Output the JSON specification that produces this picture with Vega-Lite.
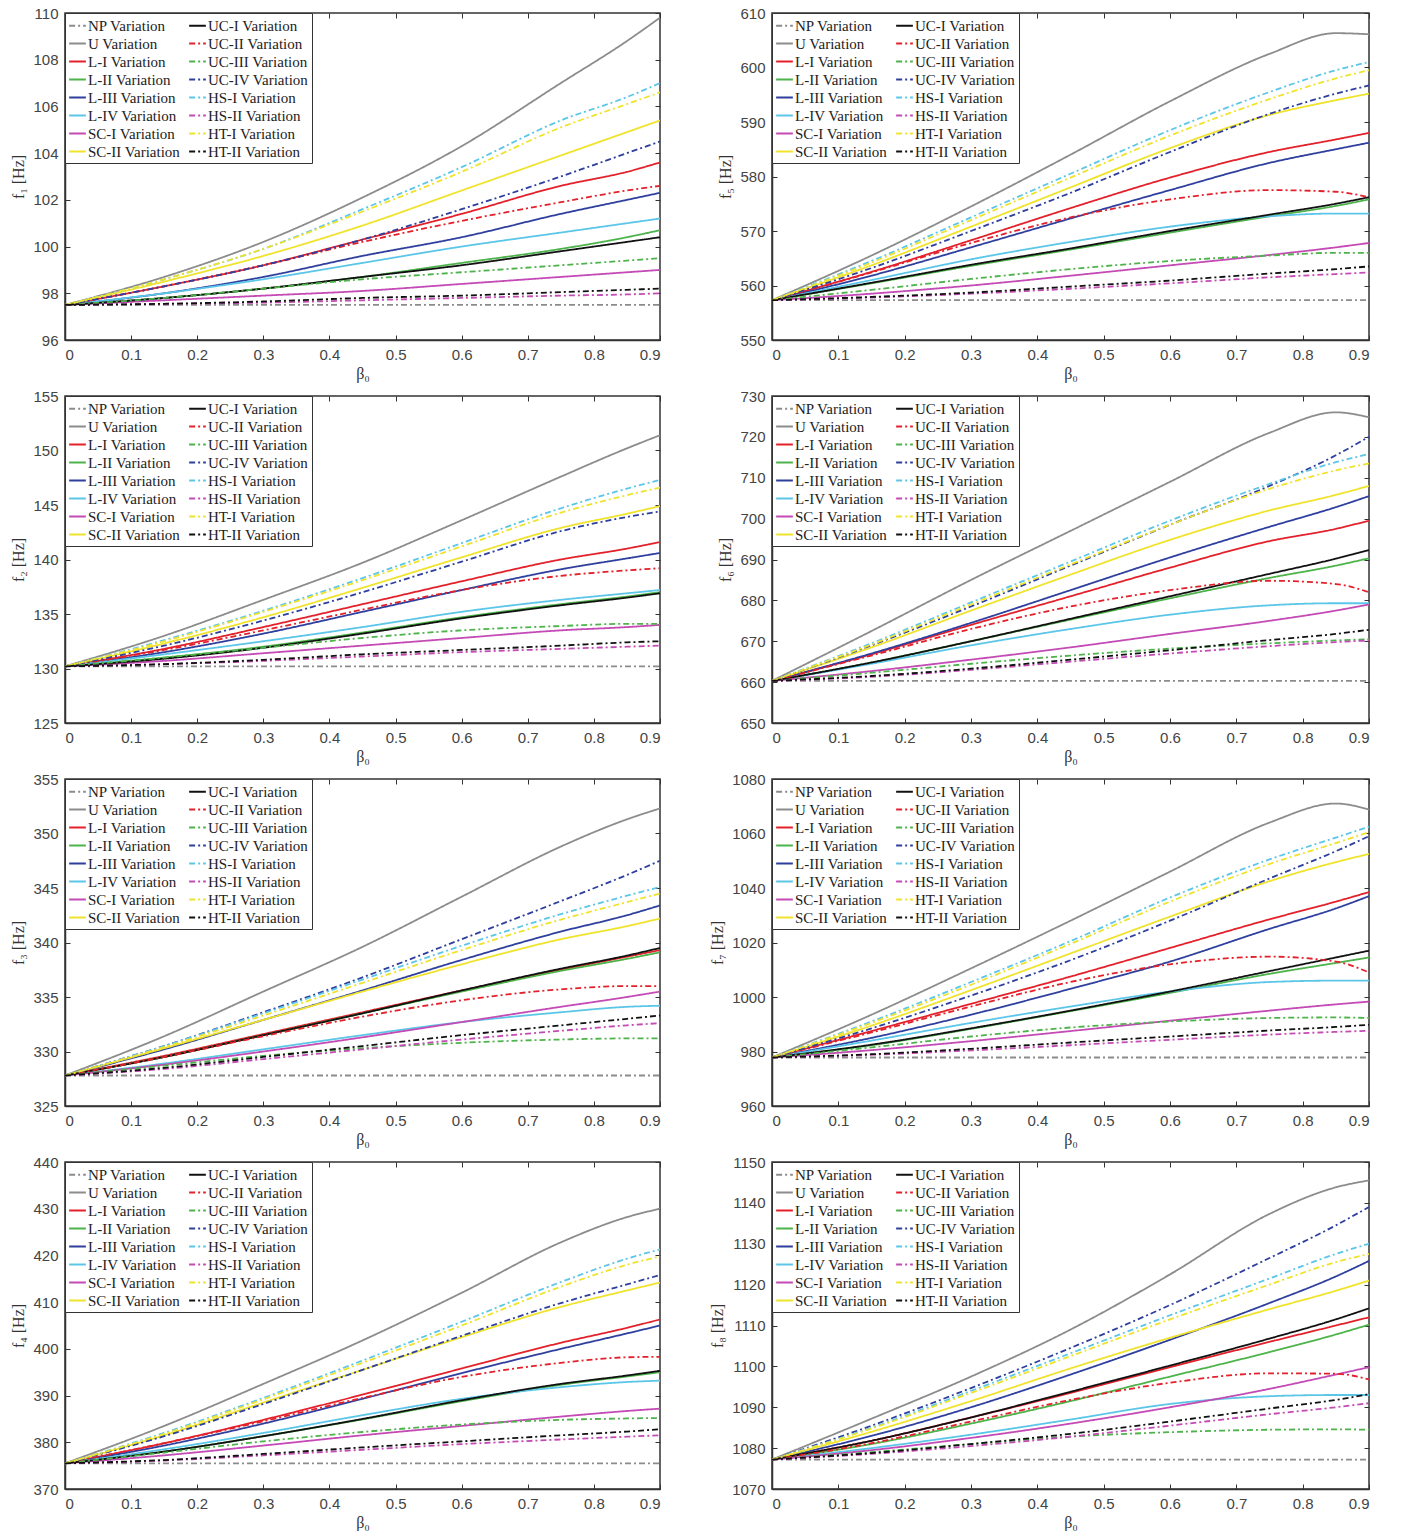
{
"$schema":"https://vega.github.io/schema/vega-lite/v6.json",
"padding":{"left":10,"top":5,"right":3,"bottom":0},
"background":"white",
"data":{"values":[
{"p":"f1","b":0,"NP":97.5,"U":97.5,"L-I":97.5,"L-II":97.5,"L-III":97.5,"L-IV":97.5,"SC-I":97.5,"SC-II":97.5,"UC-I":97.5,"UC-II":97.5,"UC-III":97.5,"UC-IV":97.5,"HS-I":97.5,"HS-II":97.5,"HT-I":97.5,"HT-II":97.5},
{"p":"f1","b":0.15,"NP":97.5,"U":98.7,"L-I":98.3,"L-II":97.8,"L-III":98.0,"L-IV":98.0,"SC-I":97.7,"SC-II":98.5,"UC-I":97.8,"UC-II":98.3,"UC-III":97.8,"UC-IV":98.3,"HS-I":98.6,"HS-II":97.55,"HT-I":98.6,"HT-II":97.55},
{"p":"f1","b":0.3,"NP":97.5,"U":100.2,"L-I":99.2,"L-II":98.2,"L-III":98.7,"L-IV":98.6,"SC-I":97.9,"SC-II":99.6,"UC-I":98.2,"UC-II":99.2,"UC-III":98.2,"UC-IV":99.2,"HS-I":99.9,"HS-II":97.6,"HT-I":99.9,"HT-II":97.65},
{"p":"f1","b":0.45,"NP":97.5,"U":102.1,"L-I":100.3,"L-II":98.7,"L-III":99.6,"L-IV":99.3,"SC-I":98.1,"SC-II":100.9,"UC-I":98.7,"UC-II":100.2,"UC-III":98.6,"UC-IV":100.3,"HS-I":101.6,"HS-II":97.7,"HT-I":101.5,"HT-II":97.8},
{"p":"f1","b":0.6,"NP":97.5,"U":104.3,"L-I":101.4,"L-II":99.3,"L-III":100.4,"L-IV":100.0,"SC-I":98.4,"SC-II":102.4,"UC-I":99.2,"UC-II":101.1,"UC-III":98.9,"UC-IV":101.6,"HS-I":103.4,"HS-II":97.8,"HT-I":103.2,"HT-II":97.9},
{"p":"f1","b":0.75,"NP":97.5,"U":107.0,"L-I":102.6,"L-II":99.9,"L-III":101.4,"L-IV":100.6,"SC-I":98.7,"SC-II":103.9,"UC-I":99.8,"UC-II":101.9,"UC-III":99.2,"UC-IV":103.0,"HS-I":105.4,"HS-II":97.9,"HT-I":105.1,"HT-II":98.05},
{"p":"f1","b":0.85,"NP":97.5,"U":108.8,"L-I":103.2,"L-II":100.4,"L-III":102.0,"L-IV":101.0,"SC-I":98.9,"SC-II":104.9,"UC-I":100.2,"UC-II":102.4,"UC-III":99.4,"UC-IV":104.0,"HS-I":106.4,"HS-II":97.95,"HT-I":106.1,"HT-II":98.15},
{"p":"f1","b":0.9,"NP":97.5,"U":109.8,"L-I":103.6,"L-II":100.7,"L-III":102.3,"L-IV":101.2,"SC-I":99.0,"SC-II":105.4,"UC-I":100.4,"UC-II":102.6,"UC-III":99.5,"UC-IV":104.5,"HS-I":107.0,"HS-II":98.0,"HT-I":106.6,"HT-II":98.2},
{"p":"f5","b":0,"NP":557.3,"U":557.3,"L-I":557.3,"L-II":557.3,"L-III":557.3,"L-IV":557.3,"SC-I":557.3,"SC-II":557.3,"UC-I":557.3,"UC-II":557.3,"UC-III":557.3,"UC-IV":557.3,"HS-I":557.3,"HS-II":557.3,"HT-I":557.3,"HT-II":557.3},
{"p":"f5","b":0.15,"NP":557.3,"U":565.5,"L-I":562.5,"L-II":560.4,"L-III":561.8,"L-IV":561,"SC-I":558.5,"SC-II":563.7,"UC-I":560.5,"UC-II":562.4,"UC-III":559.2,"UC-IV":563.2,"HS-I":564.5,"HS-II":557.8,"HT-I":564.2,"HT-II":557.9},
{"p":"f5","b":0.3,"NP":557.3,"U":574.5,"L-I":568.3,"L-II":563.6,"L-III":567,"L-IV":564.8,"SC-I":560,"SC-II":570.8,"UC-I":563.8,"UC-II":567.8,"UC-III":561.2,"UC-IV":570,"HS-I":572.5,"HS-II":558.5,"HT-I":572,"HT-II":558.7},
{"p":"f5","b":0.45,"NP":557.3,"U":584,"L-I":574.2,"L-II":566.6,"L-III":572.3,"L-IV":568,"SC-I":561.8,"SC-II":578,"UC-I":566.8,"UC-II":572.5,"UC-III":563,"UC-IV":577,"HS-I":580.5,"HS-II":559.4,"HT-I":579.8,"HT-II":559.8},
{"p":"f5","b":0.6,"NP":557.3,"U":593.8,"L-I":579.8,"L-II":569.7,"L-III":577.5,"L-IV":570.8,"SC-I":563.7,"SC-II":585.2,"UC-I":570,"UC-II":575.8,"UC-III":564.5,"UC-IV":584.5,"HS-I":588.5,"HS-II":560.4,"HT-I":587.5,"HT-II":560.9},
{"p":"f5","b":0.75,"NP":557.3,"U":602.5,"L-I":584.5,"L-II":572.7,"L-III":582.5,"L-IV":572.7,"SC-I":565.6,"SC-II":591.3,"UC-I":573,"UC-II":577.5,"UC-III":565.5,"UC-IV":591.5,"HS-I":595.5,"HS-II":561.5,"HT-I":594.2,"HT-II":562.2},
{"p":"f5","b":0.85,"NP":557.3,"U":606.3,"L-I":586.8,"L-II":574.6,"L-III":585,"L-IV":573.2,"SC-I":567,"SC-II":594,"UC-I":575,"UC-II":577.2,"UC-III":566,"UC-IV":595.2,"HS-I":599.5,"HS-II":562.1,"HT-I":598,"HT-II":563},
{"p":"f5","b":0.9,"NP":557.3,"U":606.1,"L-I":588,"L-II":575.8,"L-III":586.2,"L-IV":573.2,"SC-I":567.8,"SC-II":595.2,"UC-I":576.2,"UC-II":576.2,"UC-III":566,"UC-IV":596.7,"HS-I":601,"HS-II":562.4,"HT-I":599.5,"HT-II":563.5},
{"p":"f2","b":0,"NP":130.2,"U":130.2,"L-I":130.2,"L-II":130.2,"L-III":130.2,"L-IV":130.2,"SC-I":130.2,"SC-II":130.2,"UC-I":130.2,"UC-II":130.2,"UC-III":130.2,"UC-IV":130.2,"HS-I":130.2,"HS-II":130.2,"HT-I":130.2,"HT-II":130.2},
{"p":"f2","b":0.15,"NP":130.2,"U":133,"L-I":131.8,"L-II":131.0,"L-III":131.5,"L-IV":131.3,"SC-I":130.7,"SC-II":132.3,"UC-I":130.9,"UC-II":131.7,"UC-III":131.0,"UC-IV":132.1,"HS-I":132.6,"HS-II":130.4,"HT-I":132.5,"HT-II":130.4},
{"p":"f2","b":0.3,"NP":130.2,"U":136.3,"L-I":133.8,"L-II":132.0,"L-III":133.2,"L-IV":132.5,"SC-I":131.4,"SC-II":134.7,"UC-I":131.9,"UC-II":133.5,"UC-III":131.9,"UC-IV":134.4,"HS-I":135.3,"HS-II":130.7,"HT-I":135.2,"HT-II":130.8},
{"p":"f2","b":0.45,"NP":130.2,"U":139.7,"L-I":135.9,"L-II":133.3,"L-III":135.2,"L-IV":133.8,"SC-I":132.1,"SC-II":137.4,"UC-I":133.2,"UC-II":135.4,"UC-III":132.8,"UC-IV":137,"HS-I":138.3,"HS-II":131.1,"HT-I":138.1,"HT-II":131.3},
{"p":"f2","b":0.6,"NP":130.2,"U":143.6,"L-I":138.0,"L-II":134.7,"L-III":137.2,"L-IV":135.2,"SC-I":132.8,"SC-II":140.2,"UC-I":134.6,"UC-II":137.2,"UC-III":133.5,"UC-IV":139.8,"HS-I":141.5,"HS-II":131.5,"HT-I":141.2,"HT-II":131.7},
{"p":"f2","b":0.75,"NP":130.2,"U":147.6,"L-I":140.0,"L-II":135.9,"L-III":139.1,"L-IV":136.3,"SC-I":133.5,"SC-II":142.9,"UC-I":135.8,"UC-II":138.5,"UC-III":133.9,"UC-IV":142.6,"HS-I":144.7,"HS-II":131.8,"HT-I":144.3,"HT-II":132.1},
{"p":"f2","b":0.85,"NP":130.2,"U":150.2,"L-I":141.0,"L-II":136.6,"L-III":140.1,"L-IV":136.9,"SC-I":133.8,"SC-II":144.2,"UC-I":136.5,"UC-II":139.0,"UC-III":134.1,"UC-IV":143.9,"HS-I":146.5,"HS-II":132.0,"HT-I":145.9,"HT-II":132.4},
{"p":"f2","b":0.9,"NP":130.2,"U":151.4,"L-I":141.6,"L-II":137.0,"L-III":140.6,"L-IV":137.2,"SC-I":134.0,"SC-II":144.9,"UC-I":136.9,"UC-II":139.2,"UC-III":134.1,"UC-IV":144.4,"HS-I":147.3,"HS-II":132.1,"HT-I":146.6,"HT-II":132.5},
{"p":"f6","b":0,"NP":660.3,"U":660.3,"L-I":660.3,"L-II":660.3,"L-III":660.3,"L-IV":660.3,"SC-I":660.3,"SC-II":660.3,"UC-I":660.3,"UC-II":660.3,"UC-III":660.3,"UC-IV":660.3,"HS-I":660.3,"HS-II":660.3,"HT-I":660.3,"HT-II":660.3},
{"p":"f6","b":0.15,"NP":660.3,"U":672.5,"L-I":666.8,"L-II":664.8,"L-III":667,"L-IV":664.5,"SC-I":662.7,"SC-II":668.5,"UC-I":664.8,"UC-II":666.5,"UC-III":662.3,"UC-IV":669,"HS-I":669.5,"HS-II":661.3,"HT-I":669.2,"HT-II":661.5},
{"p":"f6","b":0.3,"NP":660.3,"U":685,"L-I":674,"L-II":670,"L-III":674.5,"L-IV":669,"SC-I":665.5,"SC-II":677.5,"UC-I":670,"UC-II":673,"UC-III":664.5,"UC-IV":678.5,"HS-I":679.5,"HS-II":663,"HT-I":679,"HT-II":663.3},
{"p":"f6","b":0.45,"NP":660.3,"U":697,"L-I":681,"L-II":675.3,"L-III":682.5,"L-IV":673,"SC-I":668.5,"SC-II":686.3,"UC-I":675.5,"UC-II":678.5,"UC-III":666.5,"UC-IV":688.5,"HS-I":689.5,"HS-II":665,"HT-I":688.8,"HT-II":665.5},
{"p":"f6","b":0.6,"NP":660.3,"U":709,"L-I":688,"L-II":680.5,"L-III":690.5,"L-IV":676.5,"SC-I":671.8,"SC-II":694.8,"UC-I":681,"UC-II":682.5,"UC-III":668.2,"UC-IV":698.5,"HS-I":699.5,"HS-II":667,"HT-I":698.5,"HT-II":667.8},
{"p":"f6","b":0.75,"NP":660.3,"U":721,"L-I":694.5,"L-II":685.5,"L-III":698,"L-IV":678.8,"SC-I":675,"SC-II":702,"UC-I":686.5,"UC-II":684.8,"UC-III":669.5,"UC-IV":708,"HS-I":708.5,"HS-II":668.8,"HT-I":707.3,"HT-II":670.3},
{"p":"f6","b":0.85,"NP":660.3,"U":726,"L-I":697.5,"L-II":688.5,"L-III":702.8,"L-IV":679.3,"SC-I":677.5,"SC-II":705.8,"UC-I":690.2,"UC-II":684,"UC-III":670.2,"UC-IV":715.5,"HS-I":713.8,"HS-II":669.8,"HT-I":711.8,"HT-II":671.8},
{"p":"f6","b":0.9,"NP":660.3,"U":724.8,"L-I":699.5,"L-II":690.3,"L-III":705.5,"L-IV":679.3,"SC-I":679,"SC-II":708,"UC-I":692.3,"UC-II":682,"UC-III":670.5,"UC-IV":720,"HS-I":715.8,"HS-II":670.2,"HT-I":713.5,"HT-II":672.8},
{"p":"f3","b":0,"NP":327.8,"U":327.8,"L-I":327.8,"L-II":327.8,"L-III":327.8,"L-IV":327.8,"SC-I":327.8,"SC-II":327.8,"UC-I":327.8,"UC-II":327.8,"UC-III":327.8,"UC-IV":327.8,"HS-I":327.8,"HS-II":327.8,"HT-I":327.8,"HT-II":327.8},
{"p":"f3","b":0.15,"NP":327.8,"U":331.4,"L-I":329.6,"L-II":329.5,"L-III":330.2,"L-IV":328.9,"SC-I":328.8,"SC-II":330.3,"UC-I":329.5,"UC-II":329.5,"UC-III":328.7,"UC-IV":330.5,"HS-I":330.5,"HS-II":328.4,"HT-I":330.4,"HT-II":328.5},
{"p":"f3","b":0.3,"NP":327.8,"U":335.5,"L-I":331.6,"L-II":331.5,"L-III":332.9,"L-IV":330.2,"SC-I":330,"SC-II":332.9,"UC-I":331.5,"UC-II":331.4,"UC-III":329.6,"UC-IV":333.6,"HS-I":333.5,"HS-II":329.3,"HT-I":333.3,"HT-II":329.5},
{"p":"f3","b":0.45,"NP":327.8,"U":339.6,"L-I":333.6,"L-II":333.5,"L-III":335.6,"L-IV":331.5,"SC-I":331.3,"SC-II":335.5,"UC-I":333.5,"UC-II":333.2,"UC-III":330.3,"UC-IV":336.8,"HS-I":336.6,"HS-II":330.2,"HT-I":336.3,"HT-II":330.5},
{"p":"f3","b":0.6,"NP":327.8,"U":344.2,"L-I":335.6,"L-II":335.5,"L-III":338.4,"L-IV":332.7,"SC-I":332.7,"SC-II":338,"UC-I":335.6,"UC-II":334.7,"UC-III":330.8,"UC-IV":340.3,"HS-I":339.7,"HS-II":331.1,"HT-I":339.3,"HT-II":331.5},
{"p":"f3","b":0.75,"NP":327.8,"U":348.8,"L-I":337.5,"L-II":337.4,"L-III":341,"L-IV":333.6,"SC-I":334.1,"SC-II":340.3,"UC-I":337.6,"UC-II":335.7,"UC-III":331.1,"UC-IV":343.8,"HS-I":342.6,"HS-II":331.9,"HT-I":342.1,"HT-II":332.4},
{"p":"f3","b":0.85,"NP":327.8,"U":351.3,"L-I":338.7,"L-II":338.5,"L-III":342.5,"L-IV":334.1,"SC-I":335,"SC-II":341.5,"UC-I":338.8,"UC-II":336.0,"UC-III":331.2,"UC-IV":346.2,"HS-I":344.3,"HS-II":332.4,"HT-I":343.7,"HT-II":333},
{"p":"f3","b":0.9,"NP":327.8,"U":352.3,"L-I":339.3,"L-II":339.1,"L-III":343.4,"L-IV":334.2,"SC-I":335.5,"SC-II":342.2,"UC-I":339.5,"UC-II":336.0,"UC-III":331.2,"UC-IV":347.5,"HS-I":345.1,"HS-II":332.6,"HT-I":344.5,"HT-II":333.3},
{"p":"f7","b":0,"NP":977.8,"U":977.8,"L-I":977.8,"L-II":977.8,"L-III":977.8,"L-IV":977.8,"SC-I":977.8,"SC-II":977.8,"UC-I":977.8,"UC-II":977.8,"UC-III":977.8,"UC-IV":977.8,"HS-I":977.8,"HS-II":977.8,"HT-I":977.8,"HT-II":977.8},
{"p":"f7","b":0.15,"NP":977.8,"U":993.5,"L-I":987.5,"L-II":982.3,"L-III":985,"L-IV":984,"SC-I":980.5,"SC-II":989.5,"UC-I":982.5,"UC-II":987,"UC-III":981.5,"UC-IV":988.5,"HS-I":991,"HS-II":978.8,"HT-I":990.5,"HT-II":979},
{"p":"f7","b":0.3,"NP":977.8,"U":1010.5,"L-I":997.5,"L-II":988.3,"L-III":993.5,"L-IV":990.5,"SC-I":983.8,"SC-II":1002.5,"UC-I":988.5,"UC-II":996.5,"UC-III":985.5,"UC-IV":1000.5,"HS-I":1005.5,"HS-II":980.4,"HT-I":1004.5,"HT-II":981},
{"p":"f7","b":0.45,"NP":977.8,"U":1028,"L-I":1007.5,"L-II":994.8,"L-III":1003,"L-IV":996.5,"SC-I":987.5,"SC-II":1016,"UC-I":995,"UC-II":1005.5,"UC-III":988.8,"UC-IV":1013.5,"HS-I":1020.5,"HS-II":982.3,"HT-I":1019.5,"HT-II":983.3},
{"p":"f7","b":0.6,"NP":977.8,"U":1046,"L-I":1018,"L-II":1001.5,"L-III":1013,"L-IV":1002,"SC-I":991.3,"SC-II":1029.5,"UC-I":1002,"UC-II":1012,"UC-III":991,"UC-IV":1028,"HS-I":1036.5,"HS-II":984.3,"HT-I":1035,"HT-II":985.5},
{"p":"f7","b":0.75,"NP":977.8,"U":1064,"L-I":1028.5,"L-II":1008.5,"L-III":1025,"L-IV":1005.5,"SC-I":995,"SC-II":1042.5,"UC-I":1009.5,"UC-II":1014.8,"UC-III":992.3,"UC-IV":1043.5,"HS-I":1050.5,"HS-II":986.2,"HT-I":1048.8,"HT-II":987.7},
{"p":"f7","b":0.85,"NP":977.8,"U":1071,"L-I":1035,"L-II":1012.5,"L-III":1032.5,"L-IV":1006,"SC-I":997.3,"SC-II":1049.5,"UC-I":1014.5,"UC-II":1013,"UC-III":992.5,"UC-IV":1053.5,"HS-I":1058.5,"HS-II":987.2,"HT-I":1056.5,"HT-II":989},
{"p":"f7","b":0.9,"NP":977.8,"U":1068.8,"L-I":1038.5,"L-II":1014.5,"L-III":1037,"L-IV":1006,"SC-I":998.3,"SC-II":1052.5,"UC-I":1017,"UC-II":1009,"UC-III":992.3,"UC-IV":1059,"HS-I":1062.5,"HS-II":987.6,"HT-I":1060.5,"HT-II":989.8},
{"p":"f4","b":0,"NP":375.5,"U":375.5,"L-I":375.5,"L-II":375.5,"L-III":375.5,"L-IV":375.5,"SC-I":375.5,"SC-II":375.5,"UC-I":375.5,"UC-II":375.5,"UC-III":375.5,"UC-IV":375.5,"HS-I":375.5,"HS-II":375.5,"HT-I":375.5,"HT-II":375.5},
{"p":"f4","b":0.15,"NP":375.5,"U":383.5,"L-I":379.8,"L-II":378,"L-III":379.3,"L-IV":378.5,"SC-I":377.2,"SC-II":381.5,"UC-I":378,"UC-II":379.8,"UC-III":377.8,"UC-IV":381.3,"HS-I":382,"HS-II":376.1,"HT-I":381.8,"HT-II":376.2},
{"p":"f4","b":0.3,"NP":375.5,"U":392.5,"L-I":384.8,"L-II":381.3,"L-III":384,"L-IV":382,"SC-I":379.3,"SC-II":388.5,"UC-I":381.3,"UC-II":384.5,"UC-III":380.2,"UC-IV":388.2,"HS-I":389.5,"HS-II":377.2,"HT-I":389.2,"HT-II":377.5},
{"p":"f4","b":0.45,"NP":375.5,"U":401.8,"L-I":390.2,"L-II":384.9,"L-III":389.3,"L-IV":385.8,"SC-I":381.5,"SC-II":395.5,"UC-I":385,"UC-II":389.5,"UC-III":382.2,"UC-IV":395.5,"HS-I":397.5,"HS-II":378.4,"HT-I":397,"HT-II":378.9},
{"p":"f4","b":0.6,"NP":375.5,"U":412,"L-I":395.8,"L-II":388.8,"L-III":394.8,"L-IV":389.3,"SC-I":383.5,"SC-II":402.5,"UC-I":389,"UC-II":394,"UC-III":383.8,"UC-IV":402.8,"HS-I":405.8,"HS-II":379.6,"HT-I":405,"HT-II":380.2},
{"p":"f4","b":0.75,"NP":375.5,"U":422.8,"L-I":401.3,"L-II":392.3,"L-III":400,"L-IV":391.8,"SC-I":385.5,"SC-II":409,"UC-I":392.5,"UC-II":397,"UC-III":384.8,"UC-IV":409.8,"HS-I":414.3,"HS-II":380.6,"HT-I":413.3,"HT-II":381.5},
{"p":"f4","b":0.85,"NP":375.5,"U":428.2,"L-I":404.5,"L-II":394.1,"L-III":403.3,"L-IV":392.9,"SC-I":386.7,"SC-II":412.5,"UC-I":394.3,"UC-II":398.2,"UC-III":385.1,"UC-IV":413.8,"HS-I":419.3,"HS-II":381.2,"HT-I":418,"HT-II":382.3},
{"p":"f4","b":0.9,"NP":375.5,"U":430,"L-I":406.3,"L-II":395,"L-III":405,"L-IV":393.2,"SC-I":387.2,"SC-II":414.2,"UC-I":395.3,"UC-II":398.3,"UC-III":385.2,"UC-IV":415.8,"HS-I":421.3,"HS-II":381.5,"HT-I":419.8,"HT-II":382.8},
{"p":"f8","b":0,"NP":1077.2,"U":1077.2,"L-I":1077.2,"L-II":1077.2,"L-III":1077.2,"L-IV":1077.2,"SC-I":1077.2,"SC-II":1077.2,"UC-I":1077.2,"UC-II":1077.2,"UC-III":1077.2,"UC-IV":1077.2,"HS-I":1077.2,"HS-II":1077.2,"HT-I":1077.2,"HT-II":1077.2},
{"p":"f8","b":0.15,"NP":1077.2,"U":1087.2,"L-I":1081.8,"L-II":1081,"L-III":1083,"L-IV":1080,"SC-I":1079.5,"SC-II":1084,"UC-I":1081.8,"UC-II":1081.2,"UC-III":1079,"UC-IV":1085.5,"HS-I":1085,"HS-II":1078.6,"HT-I":1084.8,"HT-II":1078.8},
{"p":"f8","b":0.3,"NP":1077.2,"U":1097.5,"L-I":1087.5,"L-II":1086,"L-III":1090,"L-IV":1083.3,"SC-I":1082.5,"SC-II":1091.5,"UC-I":1087.5,"UC-II":1086.5,"UC-III":1081,"UC-IV":1094.7,"HS-I":1094,"HS-II":1080.5,"HT-I":1093.5,"HT-II":1081},
{"p":"f8","b":0.45,"NP":1077.2,"U":1109,"L-I":1093.5,"L-II":1091.5,"L-III":1098,"L-IV":1087,"SC-I":1086,"SC-II":1099.5,"UC-I":1093.8,"UC-II":1091.8,"UC-III":1082.8,"UC-IV":1104.5,"HS-I":1103.2,"HS-II":1082.8,"HT-I":1102.5,"HT-II":1083.5},
{"p":"f8","b":0.6,"NP":1077.2,"U":1122.5,"L-I":1099.8,"L-II":1097.5,"L-III":1106.5,"L-IV":1090.8,"SC-I":1090,"SC-II":1107,"UC-I":1100.2,"UC-II":1096,"UC-III":1083.9,"UC-IV":1115,"HS-I":1112.5,"HS-II":1085.5,"HT-I":1111.5,"HT-II":1086.5},
{"p":"f8","b":0.75,"NP":1077.2,"U":1137.3,"L-I":1106,"L-II":1103.5,"L-III":1115.5,"L-IV":1092.7,"SC-I":1094.5,"SC-II":1114,"UC-I":1106.8,"UC-II":1098.3,"UC-III":1084.5,"UC-IV":1126.5,"HS-I":1121.5,"HS-II":1088.3,"HT-I":1120,"HT-II":1089.7},
{"p":"f8","b":0.85,"NP":1077.2,"U":1143.8,"L-I":1110,"L-II":1107.8,"L-III":1122,"L-IV":1093,"SC-I":1098,"SC-II":1118.5,"UC-I":1111.5,"UC-II":1098.2,"UC-III":1084.6,"UC-IV":1134.5,"HS-I":1127.5,"HS-II":1090,"HT-I":1125.5,"HT-II":1091.8},
{"p":"f8","b":0.9,"NP":1077.2,"U":1145.5,"L-I":1112,"L-II":1110.2,"L-III":1125.8,"L-IV":1093,"SC-I":1099.8,"SC-II":1121,"UC-I":1114.2,"UC-II":1096.8,"UC-III":1084.5,"UC-IV":1139,"HS-I":1130,"HS-II":1091,"HT-I":1127.5,"HT-II":1093.2}
]},
"columns":2,
"spacing":{"row":6,"column":46},
"resolve":{"scale":{"x":"independent","y":"independent","color":"independent","strokeDash":"independent"},"legend":{"color":"independent","strokeDash":"independent"}},
"config":{
 "view":{"stroke":"#333","strokeWidth":1.5},
 "axis":{"grid":false,"domainColor":"#333","domainWidth":1.5,"tickColor":"#333","tickSize":-5,"labelFont":"Liberation Sans","labelFontSize":15,"labelColor":"#444","labelPadding":12,"titleFont":"Liberation Serif","titleFontSize":16,"titleFontWeight":"normal","titleColor":"#333"},
 "axisX":{"titlePadding":3},
 "axisY":{"titlePadding":6},
 "legend":{"orient":"top-left","offset":0,"columns":2,"fillColor":"#ffffff","strokeColor":"#333","padding":3,"symbolType":"stroke","symbolStrokeWidth":2,"symbolSize":280,"labelFont":"Liberation Serif","labelFontSize":15,"labelColor":"#222","rowPadding":0,"columnPadding":4,"labelOffset":1,"labelLimit":300}
},
"concat":[
{"width":595,"height":327,"transform":[{"filter":"datum.p=='f1'"},{"fold":["NP","U","L-I","L-II","L-III","L-IV","SC-I","SC-II","UC-I","UC-II","UC-III","UC-IV","HS-I","HS-II","HT-I","HT-II"],"as":["s","f"]}],
 "resolve":{"axis":{"x":"independent","y":"independent"}},
 "layer":[
 {"mark":{"type":"line","strokeWidth":1.8,"interpolate":"monotone","clip":true},
 "encoding":{
  "x":{"field":"b","type":"quantitative","scale":{"domain":[0,0.9],"nice":false},"axis":{"values":[0,0.1,0.2,0.3,0.4,0.5,0.6,0.7,0.8,0.9],"format":"~g","title":"β₀"}},
  "y":{"field":"f","type":"quantitative","scale":{"domain":[96,110],"nice":false,"zero":false},"axis":{"values":[96,98,100,102,104,106,108,110],"format":"d","title":"f₁ [Hz]"}},
  "color":{"field":"s","type":"nominal","title":null,"scale":{"domain":["NP","U","L-I","L-II","L-III","L-IV","SC-I","SC-II","UC-I","UC-II","UC-III","UC-IV","HS-I","HS-II","HT-I","HT-II"],"range":["#8c8c8c","#8c8c8c","#e3212b","#4db34a","#2e3f9e","#5cc6e8","#c44bb5","#f0e32c","#111111","#e3212b","#4db34a","#2e3f9e","#5cc6e8","#c44bb5","#f0e32c","#111111"]},"legend":{"labelExpr":"datum.label + ' Variation'"}},
  "strokeDash":{"field":"s","type":"nominal","title":null,"scale":{"domain":["NP","U","L-I","L-II","L-III","L-IV","SC-I","SC-II","UC-I","UC-II","UC-III","UC-IV","HS-I","HS-II","HT-I","HT-II"],"range":[[6,3,2,3],[1,0],[1,0],[1,0],[1,0],[1,0],[1,0],[1,0],[1,0],[6,3,2,3],[6,3,2,3],[6,3,2,3],[6,3,2,3],[6,3,2,3],[6,3,2,3],[6,3,2,3]]},"legend":{"labelExpr":"datum.label + ' Variation'"}}
 }},
 {"mark":{"type":"line","opacity":0},
 "encoding":{
  "x":{"field":"b","type":"quantitative","scale":{"domain":[0,0.9],"nice":false},"axis":{"orient":"top","values":[0,0.1,0.2,0.3,0.4,0.5,0.6,0.7,0.8,0.9],"labels":false,"domain":false,"title":null}},
  "y":{"field":"f","type":"quantitative","scale":{"domain":[96,110],"nice":false,"zero":false},"axis":{"orient":"right","values":[96,98,100,102,104,106,108,110],"labels":false,"domain":false,"title":null}},
  "detail":{"field":"s"}
 }}
 ]},
{"width":597,"height":327,"transform":[{"filter":"datum.p=='f5'"},{"fold":["NP","U","L-I","L-II","L-III","L-IV","SC-I","SC-II","UC-I","UC-II","UC-III","UC-IV","HS-I","HS-II","HT-I","HT-II"],"as":["s","f"]}],
 "resolve":{"axis":{"x":"independent","y":"independent"}},
 "layer":[
 {"mark":{"type":"line","strokeWidth":1.8,"interpolate":"monotone","clip":true},
 "encoding":{
  "x":{"field":"b","type":"quantitative","scale":{"domain":[0,0.9],"nice":false},"axis":{"values":[0,0.1,0.2,0.3,0.4,0.5,0.6,0.7,0.8,0.9],"format":"~g","title":"β₀"}},
  "y":{"field":"f","type":"quantitative","scale":{"domain":[550,610],"nice":false,"zero":false},"axis":{"values":[550,560,570,580,590,600,610],"format":"d","title":"f₅ [Hz]"}},
  "color":{"field":"s","type":"nominal","title":null,"scale":{"domain":["NP","U","L-I","L-II","L-III","L-IV","SC-I","SC-II","UC-I","UC-II","UC-III","UC-IV","HS-I","HS-II","HT-I","HT-II"],"range":["#8c8c8c","#8c8c8c","#e3212b","#4db34a","#2e3f9e","#5cc6e8","#c44bb5","#f0e32c","#111111","#e3212b","#4db34a","#2e3f9e","#5cc6e8","#c44bb5","#f0e32c","#111111"]},"legend":{"labelExpr":"datum.label + ' Variation'"}},
  "strokeDash":{"field":"s","type":"nominal","title":null,"scale":{"domain":["NP","U","L-I","L-II","L-III","L-IV","SC-I","SC-II","UC-I","UC-II","UC-III","UC-IV","HS-I","HS-II","HT-I","HT-II"],"range":[[6,3,2,3],[1,0],[1,0],[1,0],[1,0],[1,0],[1,0],[1,0],[1,0],[6,3,2,3],[6,3,2,3],[6,3,2,3],[6,3,2,3],[6,3,2,3],[6,3,2,3],[6,3,2,3]]},"legend":{"labelExpr":"datum.label + ' Variation'"}}
 }},
 {"mark":{"type":"line","opacity":0},
 "encoding":{
  "x":{"field":"b","type":"quantitative","scale":{"domain":[0,0.9],"nice":false},"axis":{"orient":"top","values":[0,0.1,0.2,0.3,0.4,0.5,0.6,0.7,0.8,0.9],"labels":false,"domain":false,"title":null}},
  "y":{"field":"f","type":"quantitative","scale":{"domain":[550,610],"nice":false,"zero":false},"axis":{"orient":"right","values":[550,560,570,580,590,600,610],"labels":false,"domain":false,"title":null}},
  "detail":{"field":"s"}
 }}
 ]},
{"width":595,"height":327,"transform":[{"filter":"datum.p=='f2'"},{"fold":["NP","U","L-I","L-II","L-III","L-IV","SC-I","SC-II","UC-I","UC-II","UC-III","UC-IV","HS-I","HS-II","HT-I","HT-II"],"as":["s","f"]}],
 "resolve":{"axis":{"x":"independent","y":"independent"}},
 "layer":[
 {"mark":{"type":"line","strokeWidth":1.8,"interpolate":"monotone","clip":true},
 "encoding":{
  "x":{"field":"b","type":"quantitative","scale":{"domain":[0,0.9],"nice":false},"axis":{"values":[0,0.1,0.2,0.3,0.4,0.5,0.6,0.7,0.8,0.9],"format":"~g","title":"β₀"}},
  "y":{"field":"f","type":"quantitative","scale":{"domain":[125,155],"nice":false,"zero":false},"axis":{"values":[125,130,135,140,145,150,155],"format":"d","title":"f₂ [Hz]"}},
  "color":{"field":"s","type":"nominal","title":null,"scale":{"domain":["NP","U","L-I","L-II","L-III","L-IV","SC-I","SC-II","UC-I","UC-II","UC-III","UC-IV","HS-I","HS-II","HT-I","HT-II"],"range":["#8c8c8c","#8c8c8c","#e3212b","#4db34a","#2e3f9e","#5cc6e8","#c44bb5","#f0e32c","#111111","#e3212b","#4db34a","#2e3f9e","#5cc6e8","#c44bb5","#f0e32c","#111111"]},"legend":{"labelExpr":"datum.label + ' Variation'"}},
  "strokeDash":{"field":"s","type":"nominal","title":null,"scale":{"domain":["NP","U","L-I","L-II","L-III","L-IV","SC-I","SC-II","UC-I","UC-II","UC-III","UC-IV","HS-I","HS-II","HT-I","HT-II"],"range":[[6,3,2,3],[1,0],[1,0],[1,0],[1,0],[1,0],[1,0],[1,0],[1,0],[6,3,2,3],[6,3,2,3],[6,3,2,3],[6,3,2,3],[6,3,2,3],[6,3,2,3],[6,3,2,3]]},"legend":{"labelExpr":"datum.label + ' Variation'"}}
 }},
 {"mark":{"type":"line","opacity":0},
 "encoding":{
  "x":{"field":"b","type":"quantitative","scale":{"domain":[0,0.9],"nice":false},"axis":{"orient":"top","values":[0,0.1,0.2,0.3,0.4,0.5,0.6,0.7,0.8,0.9],"labels":false,"domain":false,"title":null}},
  "y":{"field":"f","type":"quantitative","scale":{"domain":[125,155],"nice":false,"zero":false},"axis":{"orient":"right","values":[125,130,135,140,145,150,155],"labels":false,"domain":false,"title":null}},
  "detail":{"field":"s"}
 }}
 ]},
{"width":597,"height":327,"transform":[{"filter":"datum.p=='f6'"},{"fold":["NP","U","L-I","L-II","L-III","L-IV","SC-I","SC-II","UC-I","UC-II","UC-III","UC-IV","HS-I","HS-II","HT-I","HT-II"],"as":["s","f"]}],
 "resolve":{"axis":{"x":"independent","y":"independent"}},
 "layer":[
 {"mark":{"type":"line","strokeWidth":1.8,"interpolate":"monotone","clip":true},
 "encoding":{
  "x":{"field":"b","type":"quantitative","scale":{"domain":[0,0.9],"nice":false},"axis":{"values":[0,0.1,0.2,0.3,0.4,0.5,0.6,0.7,0.8,0.9],"format":"~g","title":"β₀"}},
  "y":{"field":"f","type":"quantitative","scale":{"domain":[650,730],"nice":false,"zero":false},"axis":{"values":[650,660,670,680,690,700,710,720,730],"format":"d","title":"f₆ [Hz]"}},
  "color":{"field":"s","type":"nominal","title":null,"scale":{"domain":["NP","U","L-I","L-II","L-III","L-IV","SC-I","SC-II","UC-I","UC-II","UC-III","UC-IV","HS-I","HS-II","HT-I","HT-II"],"range":["#8c8c8c","#8c8c8c","#e3212b","#4db34a","#2e3f9e","#5cc6e8","#c44bb5","#f0e32c","#111111","#e3212b","#4db34a","#2e3f9e","#5cc6e8","#c44bb5","#f0e32c","#111111"]},"legend":{"labelExpr":"datum.label + ' Variation'"}},
  "strokeDash":{"field":"s","type":"nominal","title":null,"scale":{"domain":["NP","U","L-I","L-II","L-III","L-IV","SC-I","SC-II","UC-I","UC-II","UC-III","UC-IV","HS-I","HS-II","HT-I","HT-II"],"range":[[6,3,2,3],[1,0],[1,0],[1,0],[1,0],[1,0],[1,0],[1,0],[1,0],[6,3,2,3],[6,3,2,3],[6,3,2,3],[6,3,2,3],[6,3,2,3],[6,3,2,3],[6,3,2,3]]},"legend":{"labelExpr":"datum.label + ' Variation'"}}
 }},
 {"mark":{"type":"line","opacity":0},
 "encoding":{
  "x":{"field":"b","type":"quantitative","scale":{"domain":[0,0.9],"nice":false},"axis":{"orient":"top","values":[0,0.1,0.2,0.3,0.4,0.5,0.6,0.7,0.8,0.9],"labels":false,"domain":false,"title":null}},
  "y":{"field":"f","type":"quantitative","scale":{"domain":[650,730],"nice":false,"zero":false},"axis":{"orient":"right","values":[650,660,670,680,690,700,710,720,730],"labels":false,"domain":false,"title":null}},
  "detail":{"field":"s"}
 }}
 ]},
{"width":595,"height":327,"transform":[{"filter":"datum.p=='f3'"},{"fold":["NP","U","L-I","L-II","L-III","L-IV","SC-I","SC-II","UC-I","UC-II","UC-III","UC-IV","HS-I","HS-II","HT-I","HT-II"],"as":["s","f"]}],
 "resolve":{"axis":{"x":"independent","y":"independent"}},
 "layer":[
 {"mark":{"type":"line","strokeWidth":1.8,"interpolate":"monotone","clip":true},
 "encoding":{
  "x":{"field":"b","type":"quantitative","scale":{"domain":[0,0.9],"nice":false},"axis":{"values":[0,0.1,0.2,0.3,0.4,0.5,0.6,0.7,0.8,0.9],"format":"~g","title":"β₀"}},
  "y":{"field":"f","type":"quantitative","scale":{"domain":[325,355],"nice":false,"zero":false},"axis":{"values":[325,330,335,340,345,350,355],"format":"d","title":"f₃ [Hz]"}},
  "color":{"field":"s","type":"nominal","title":null,"scale":{"domain":["NP","U","L-I","L-II","L-III","L-IV","SC-I","SC-II","UC-I","UC-II","UC-III","UC-IV","HS-I","HS-II","HT-I","HT-II"],"range":["#8c8c8c","#8c8c8c","#e3212b","#4db34a","#2e3f9e","#5cc6e8","#c44bb5","#f0e32c","#111111","#e3212b","#4db34a","#2e3f9e","#5cc6e8","#c44bb5","#f0e32c","#111111"]},"legend":{"labelExpr":"datum.label + ' Variation'"}},
  "strokeDash":{"field":"s","type":"nominal","title":null,"scale":{"domain":["NP","U","L-I","L-II","L-III","L-IV","SC-I","SC-II","UC-I","UC-II","UC-III","UC-IV","HS-I","HS-II","HT-I","HT-II"],"range":[[6,3,2,3],[1,0],[1,0],[1,0],[1,0],[1,0],[1,0],[1,0],[1,0],[6,3,2,3],[6,3,2,3],[6,3,2,3],[6,3,2,3],[6,3,2,3],[6,3,2,3],[6,3,2,3]]},"legend":{"labelExpr":"datum.label + ' Variation'"}}
 }},
 {"mark":{"type":"line","opacity":0},
 "encoding":{
  "x":{"field":"b","type":"quantitative","scale":{"domain":[0,0.9],"nice":false},"axis":{"orient":"top","values":[0,0.1,0.2,0.3,0.4,0.5,0.6,0.7,0.8,0.9],"labels":false,"domain":false,"title":null}},
  "y":{"field":"f","type":"quantitative","scale":{"domain":[325,355],"nice":false,"zero":false},"axis":{"orient":"right","values":[325,330,335,340,345,350,355],"labels":false,"domain":false,"title":null}},
  "detail":{"field":"s"}
 }}
 ]},
{"width":597,"height":327,"transform":[{"filter":"datum.p=='f7'"},{"fold":["NP","U","L-I","L-II","L-III","L-IV","SC-I","SC-II","UC-I","UC-II","UC-III","UC-IV","HS-I","HS-II","HT-I","HT-II"],"as":["s","f"]}],
 "resolve":{"axis":{"x":"independent","y":"independent"}},
 "layer":[
 {"mark":{"type":"line","strokeWidth":1.8,"interpolate":"monotone","clip":true},
 "encoding":{
  "x":{"field":"b","type":"quantitative","scale":{"domain":[0,0.9],"nice":false},"axis":{"values":[0,0.1,0.2,0.3,0.4,0.5,0.6,0.7,0.8,0.9],"format":"~g","title":"β₀"}},
  "y":{"field":"f","type":"quantitative","scale":{"domain":[960,1080],"nice":false,"zero":false},"axis":{"values":[960,980,1000,1020,1040,1060,1080],"format":"d","title":"f₇ [Hz]"}},
  "color":{"field":"s","type":"nominal","title":null,"scale":{"domain":["NP","U","L-I","L-II","L-III","L-IV","SC-I","SC-II","UC-I","UC-II","UC-III","UC-IV","HS-I","HS-II","HT-I","HT-II"],"range":["#8c8c8c","#8c8c8c","#e3212b","#4db34a","#2e3f9e","#5cc6e8","#c44bb5","#f0e32c","#111111","#e3212b","#4db34a","#2e3f9e","#5cc6e8","#c44bb5","#f0e32c","#111111"]},"legend":{"labelExpr":"datum.label + ' Variation'"}},
  "strokeDash":{"field":"s","type":"nominal","title":null,"scale":{"domain":["NP","U","L-I","L-II","L-III","L-IV","SC-I","SC-II","UC-I","UC-II","UC-III","UC-IV","HS-I","HS-II","HT-I","HT-II"],"range":[[6,3,2,3],[1,0],[1,0],[1,0],[1,0],[1,0],[1,0],[1,0],[1,0],[6,3,2,3],[6,3,2,3],[6,3,2,3],[6,3,2,3],[6,3,2,3],[6,3,2,3],[6,3,2,3]]},"legend":{"labelExpr":"datum.label + ' Variation'"}}
 }},
 {"mark":{"type":"line","opacity":0},
 "encoding":{
  "x":{"field":"b","type":"quantitative","scale":{"domain":[0,0.9],"nice":false},"axis":{"orient":"top","values":[0,0.1,0.2,0.3,0.4,0.5,0.6,0.7,0.8,0.9],"labels":false,"domain":false,"title":null}},
  "y":{"field":"f","type":"quantitative","scale":{"domain":[960,1080],"nice":false,"zero":false},"axis":{"orient":"right","values":[960,980,1000,1020,1040,1060,1080],"labels":false,"domain":false,"title":null}},
  "detail":{"field":"s"}
 }}
 ]},
{"width":595,"height":327,"transform":[{"filter":"datum.p=='f4'"},{"fold":["NP","U","L-I","L-II","L-III","L-IV","SC-I","SC-II","UC-I","UC-II","UC-III","UC-IV","HS-I","HS-II","HT-I","HT-II"],"as":["s","f"]}],
 "resolve":{"axis":{"x":"independent","y":"independent"}},
 "layer":[
 {"mark":{"type":"line","strokeWidth":1.8,"interpolate":"monotone","clip":true},
 "encoding":{
  "x":{"field":"b","type":"quantitative","scale":{"domain":[0,0.9],"nice":false},"axis":{"values":[0,0.1,0.2,0.3,0.4,0.5,0.6,0.7,0.8,0.9],"format":"~g","title":"β₀"}},
  "y":{"field":"f","type":"quantitative","scale":{"domain":[370,440],"nice":false,"zero":false},"axis":{"values":[370,380,390,400,410,420,430,440],"format":"d","title":"f₄ [Hz]"}},
  "color":{"field":"s","type":"nominal","title":null,"scale":{"domain":["NP","U","L-I","L-II","L-III","L-IV","SC-I","SC-II","UC-I","UC-II","UC-III","UC-IV","HS-I","HS-II","HT-I","HT-II"],"range":["#8c8c8c","#8c8c8c","#e3212b","#4db34a","#2e3f9e","#5cc6e8","#c44bb5","#f0e32c","#111111","#e3212b","#4db34a","#2e3f9e","#5cc6e8","#c44bb5","#f0e32c","#111111"]},"legend":{"labelExpr":"datum.label + ' Variation'"}},
  "strokeDash":{"field":"s","type":"nominal","title":null,"scale":{"domain":["NP","U","L-I","L-II","L-III","L-IV","SC-I","SC-II","UC-I","UC-II","UC-III","UC-IV","HS-I","HS-II","HT-I","HT-II"],"range":[[6,3,2,3],[1,0],[1,0],[1,0],[1,0],[1,0],[1,0],[1,0],[1,0],[6,3,2,3],[6,3,2,3],[6,3,2,3],[6,3,2,3],[6,3,2,3],[6,3,2,3],[6,3,2,3]]},"legend":{"labelExpr":"datum.label + ' Variation'"}}
 }},
 {"mark":{"type":"line","opacity":0},
 "encoding":{
  "x":{"field":"b","type":"quantitative","scale":{"domain":[0,0.9],"nice":false},"axis":{"orient":"top","values":[0,0.1,0.2,0.3,0.4,0.5,0.6,0.7,0.8,0.9],"labels":false,"domain":false,"title":null}},
  "y":{"field":"f","type":"quantitative","scale":{"domain":[370,440],"nice":false,"zero":false},"axis":{"orient":"right","values":[370,380,390,400,410,420,430,440],"labels":false,"domain":false,"title":null}},
  "detail":{"field":"s"}
 }}
 ]},
{"width":597,"height":327,"transform":[{"filter":"datum.p=='f8'"},{"fold":["NP","U","L-I","L-II","L-III","L-IV","SC-I","SC-II","UC-I","UC-II","UC-III","UC-IV","HS-I","HS-II","HT-I","HT-II"],"as":["s","f"]}],
 "resolve":{"axis":{"x":"independent","y":"independent"}},
 "layer":[
 {"mark":{"type":"line","strokeWidth":1.8,"interpolate":"monotone","clip":true},
 "encoding":{
  "x":{"field":"b","type":"quantitative","scale":{"domain":[0,0.9],"nice":false},"axis":{"values":[0,0.1,0.2,0.3,0.4,0.5,0.6,0.7,0.8,0.9],"format":"~g","title":"β₀"}},
  "y":{"field":"f","type":"quantitative","scale":{"domain":[1070,1150],"nice":false,"zero":false},"axis":{"values":[1070,1080,1090,1100,1110,1120,1130,1140,1150],"format":"d","title":"f₈ [Hz]"}},
  "color":{"field":"s","type":"nominal","title":null,"scale":{"domain":["NP","U","L-I","L-II","L-III","L-IV","SC-I","SC-II","UC-I","UC-II","UC-III","UC-IV","HS-I","HS-II","HT-I","HT-II"],"range":["#8c8c8c","#8c8c8c","#e3212b","#4db34a","#2e3f9e","#5cc6e8","#c44bb5","#f0e32c","#111111","#e3212b","#4db34a","#2e3f9e","#5cc6e8","#c44bb5","#f0e32c","#111111"]},"legend":{"labelExpr":"datum.label + ' Variation'"}},
  "strokeDash":{"field":"s","type":"nominal","title":null,"scale":{"domain":["NP","U","L-I","L-II","L-III","L-IV","SC-I","SC-II","UC-I","UC-II","UC-III","UC-IV","HS-I","HS-II","HT-I","HT-II"],"range":[[6,3,2,3],[1,0],[1,0],[1,0],[1,0],[1,0],[1,0],[1,0],[1,0],[6,3,2,3],[6,3,2,3],[6,3,2,3],[6,3,2,3],[6,3,2,3],[6,3,2,3],[6,3,2,3]]},"legend":{"labelExpr":"datum.label + ' Variation'"}}
 }},
 {"mark":{"type":"line","opacity":0},
 "encoding":{
  "x":{"field":"b","type":"quantitative","scale":{"domain":[0,0.9],"nice":false},"axis":{"orient":"top","values":[0,0.1,0.2,0.3,0.4,0.5,0.6,0.7,0.8,0.9],"labels":false,"domain":false,"title":null}},
  "y":{"field":"f","type":"quantitative","scale":{"domain":[1070,1150],"nice":false,"zero":false},"axis":{"orient":"right","values":[1070,1080,1090,1100,1110,1120,1130,1140,1150],"labels":false,"domain":false,"title":null}},
  "detail":{"field":"s"}
 }}
 ]}
]
}
